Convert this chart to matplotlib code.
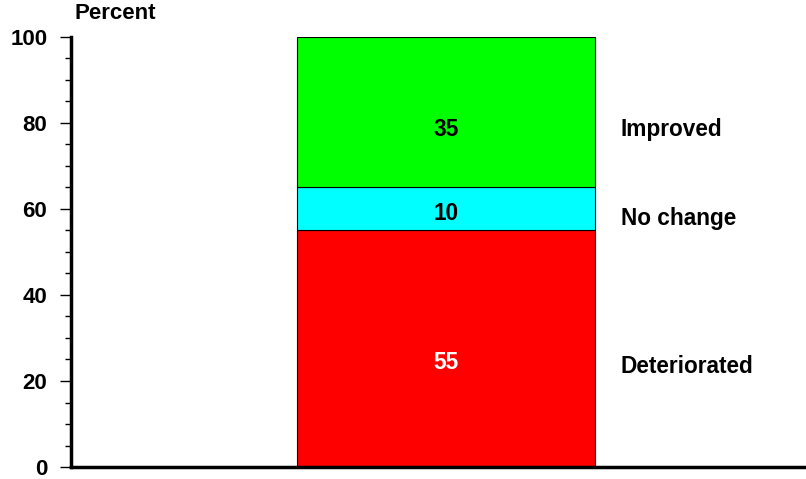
import numpy as np
import matplotlib.pyplot as plt
from matplotlib.ticker import MultipleLocator

plt.rcParams['font.family'] = ['Liberation Sans', 'DejaVu Sans']
plt.rcParams['font.weight'] = 'bold'

categories = ["Deteriorated", "No change", "Improved"]
values = [55, 10, 35]
colors = ["#ff0000", "#00ffff", "#00ff00"]
value_colors = ["white", "black", "black"]

fig = plt.figure(figsize=(8.06, 4.79), dpi=100)
ax = fig.add_axes([0.088, 0.025, 0.912, 0.898])

bottoms = np.concatenate([[0], np.cumsum(values)[:-1]])
ax.bar([0] * len(values), values, bottom=bottoms, width=1.0,
       color=colors, edgecolor="black", linewidth=0.8)

# text sits a bit below the segment middle in the original
num_shift = [-3.2, -1.0, -4.0]
name_shift = [-4.2, -2.3, -4.0]
for v, b, s1, s2, c, name in zip(values, bottoms, num_shift, name_shift, value_colors, categories):
    mid = b + v / 2
    ax.text(0, mid + s1, str(v), ha="center", va="center", color=c, fontsize=16.3, fontweight="bold")
    ax.text(0.587, mid + s2, name, ha="left", va="center", color="black", fontsize=16.3, fontweight="bold")

ax.set_xlim(-1.258, 1.208)
ax.set_ylim(0, 100)
ax.yaxis.set_major_locator(MultipleLocator(20))
ax.yaxis.set_minor_locator(MultipleLocator(5))
ax.tick_params(axis="y", which="major", length=8, width=1, labelsize=16, pad=9)
ax.tick_params(axis="y", which="minor", length=4, width=1)
ax.set_xticks([])
for sp in ["top", "right"]:
    ax.spines[sp].set_visible(False)
ax.spines["left"].set_linewidth(2.5)
ax.spines["bottom"].set_linewidth(2.5)

ax.text(0.005, 1.03, "Percent", transform=ax.transAxes, fontsize=16, fontweight="bold",
        ha="left", va="bottom")

fig.savefig("out.png", dpi=100)
